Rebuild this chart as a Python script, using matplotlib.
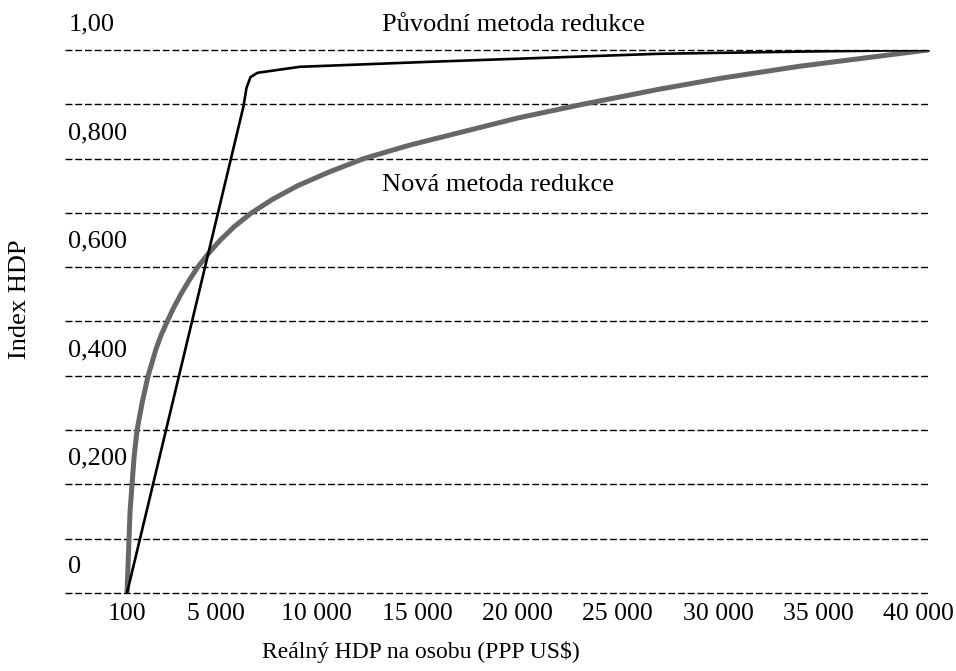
import matplotlib.pyplot as plt
from matplotlib.transforms import ScaledTranslation

plt.rcParams['font.family'] = ['Liberation Serif', 'DejaVu Serif']

# puvodni metoda (cerna)
orig_x = [100, 5900, 6050, 6250, 6600, 8700, 15000, 26600, 33600, 40000]
orig_y = [0.0, 0.896, 0.93, 0.95, 0.958, 0.969, 0.978, 0.993, 0.997, 1.0]

# nova metoda (seda)
new_x = [100, 150, 200, 250, 350, 450, 600, 850, 1150, 1350, 1550, 1800, 2100,
         2420, 2780, 3180, 3620, 4150, 4750, 5450, 6300, 7350, 8600, 10150,
         11900, 14200, 16900, 19600, 22800, 26650, 29700, 33600, 36800, 40000]
new_y = [0.0, 0.05, 0.1, 0.15, 0.2, 0.25, 0.3, 0.35, 0.4, 0.425, 0.45, 0.475, 0.5,
         0.525, 0.55, 0.575, 0.6, 0.625, 0.65, 0.675, 0.7, 0.725, 0.75, 0.775,
         0.8, 0.825, 0.85, 0.875, 0.9, 0.928, 0.948, 0.97, 0.985, 1.0]

grid_levels = [0.0, 0.1, 0.2, 0.3, 0.4, 0.5, 0.6, 0.7, 0.8, 0.9, 1.0]
ylabel_vals = [0.0, 0.2, 0.4, 0.6, 0.8, 1.0]
ylabel_txt = ['0', '0,200', '0,400', '0,600', '0,800', '1,00']
xtick_vals = [100, 5000, 10000, 15000, 20000, 25000, 30000, 35000, 40000]
xtick_txt = ['100', '5 000', '10 000', '15 000', '20 000', '25 000', '30 000', '35 000', '40 000']

fig = plt.figure(figsize=(9.56, 6.71), dpi=100)
ax = fig.add_axes([0.068, 0.1163, 0.9047, 0.8092])

for lev in grid_levels:
    ax.axhline(lev, color='black', lw=1.0, linestyle=(0, (5, 2)), clip_on=False, zorder=1)

ax.plot(new_x, new_y, color='#676767', lw=3.6, solid_capstyle='round',
        solid_joinstyle='round', zorder=2)
ax.plot(orig_x, orig_y, color='black', lw=1.9, solid_joinstyle='round', zorder=3)

for v, t in zip(ylabel_vals, ylabel_txt):
    ax.text(0.004, v + 0.047, t, transform=ax.get_yaxis_transform(), fontsize=19,
            ha='left', va='center')

ax.text(12800, 1.046, 'Původní metoda redukce', fontsize=19, ha='left', va='center')
ax.text(12800, 0.751, 'Nová metoda redukce', fontsize=19, ha='left', va='center')

ax.set_xlim(-2990, 40100)
ax.set_ylim(0, 1)
ax.set_xticks(xtick_vals)
ax.set_xticklabels(xtick_txt, fontsize=18.5)
ax.set_yticks([])
ax.tick_params(axis='x', length=0, pad=7)
for lbl in ax.get_xticklabels()[1:]:
    lbl.set_transform(lbl.get_transform() + ScaledTranslation(-9 / 100, 0, fig.dpi_scale_trans))
for s in ax.spines.values():
    s.set_visible(False)

fig.text(0.44, 0.028, 'Reálný HDP na osobu (PPP US$)', fontsize=17, ha='center', va='center')
fig.text(0.021, 0.554, 'Index HDP', fontsize=19, rotation=90, ha='center', va='center')

fig.savefig('out.png', dpi=100)
